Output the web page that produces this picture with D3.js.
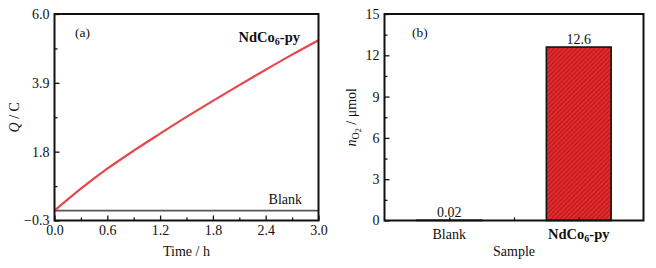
<!DOCTYPE html>
<html>
<head>
<meta charset="utf-8">
<script src="https://cdn.jsdelivr.net/npm/d3@7"></script>
<style>
  body { margin: 0; background: #fff; }
  svg text { font-family: "Liberation Serif", "Times New Roman", Times, serif !important; fill: #111; }
</style>
</head>
<body>
<svg id="chart" width="656" height="268"></svg>
<script>
// Panel (a): charge vs time
const timeH = [0, 0.3, 0.6, 0.9, 1.2, 1.5, 1.8, 2.1, 2.4, 2.7, 3.0];
const chargeNd = [0.0, 0.67, 1.28, 1.83, 2.35, 2.86, 3.35, 3.83, 4.3, 4.76, 5.2];
const chargeBlank = [0.0, 0.0, 0.0, 0.0, 0.0, 0.0, 0.0, 0.0, 0.0, 0.0, 0.0];
const xTicksA = [0, 0.6, 1.2, 1.8, 2.4, 3.0];
const yTicksA = [-0.3, 1.8, 3.9, 6.0];

// Panel (b): O2 amount per sample
const samples = ["Blank", "NdCo6-py"];
const o2Amount = [0.02, 12.6];
const yTicksB = [0, 3, 6, 9, 12, 15];

const svg = d3.select("#chart");
const plotTop = 14, plotBottom = 220.5;
const fs = "14px";

// hatch pattern for the red bar
const defs = svg.append("defs");
const pat = defs.append("pattern")
    .attr("id", "hatch")
    .attr("patternUnits", "userSpaceOnUse")
    .attr("width", 3.2).attr("height", 3.2)
    .attr("patternTransform", "rotate(45)");
pat.append("rect").attr("width", 3.2).attr("height", 3.2).attr("fill", "#e0282b");
pat.append("line").attr("x1", 0).attr("y1", 0).attr("x2", 0).attr("y2", 3.2)
    .attr("stroke", "#8e1416").attr("stroke-width", 1);

function midpoints(ticks) {
    const m = [];
    for (let i = 0; i < ticks.length - 1; i++) m.push((ticks[i] + ticks[i + 1]) / 2);
    return m;
}

function drawAxes(g, x, y, xTicks, yTicks, xMinor, yMinor, yFmt) {
    const w = x.range()[1] - x.range()[0];
    // minor ticks
    g.append("g").attr("transform", `translate(0,${plotBottom})`)
        .call(d3.axisBottom(x).tickValues(xMinor).tickSize(-3).tickFormat(""))
        .call(a => a.select(".domain").remove());
    g.append("g").attr("transform", `translate(${x.range()[0]},0)`)
        .call(d3.axisLeft(y).tickValues(yMinor).tickSize(-3).tickFormat(""))
        .call(a => a.select(".domain").remove());
    // major ticks
    if (xTicks) {
        g.append("g").attr("class", "x-axis").attr("transform", `translate(0,${plotBottom})`)
            .call(d3.axisBottom(x).tickValues(xTicks).tickSizeInner(-5).tickSizeOuter(0)
                .tickPadding(5).tickFormat(d3.format(".1f")))
            .call(a => a.select(".domain").remove());
    }
    g.append("g").attr("class", "y-axis").attr("transform", `translate(${x.range()[0]},0)`)
        .call(d3.axisLeft(y).tickValues(yTicks).tickSizeInner(-5).tickSizeOuter(0)
            .tickPadding(5).tickFormat(yFmt))
        .call(a => a.select(".domain").remove());
    g.selectAll("g").attr("font-family", null).attr("font-size", null);
    g.selectAll(".tick line").attr("stroke", "#111").attr("stroke-width", 1.3);
    g.selectAll(".tick text").style("font-size", fs).attr("fill", "#111");
    // frame
    g.append("rect")
        .attr("x", x.range()[0]).attr("y", plotTop)
        .attr("width", w).attr("height", plotBottom - plotTop)
        .attr("fill", "none").attr("stroke", "#111").attr("stroke-width", 2);
}

// ---------- Panel (a) ----------
const gA = svg.append("g");
const xA = d3.scaleLinear().domain([0, 3]).range([54.5, 318.5]);
const yA = d3.scaleLinear().domain([-0.3, 6.0]).range([plotBottom, plotTop]);

const line = d3.line().x((d, i) => xA(timeH[i])).y(d => yA(d)).curve(d3.curveMonotoneX);

gA.append("path").datum(chargeBlank)
    .attr("d", line).attr("fill", "none")
    .attr("stroke", "#555").attr("stroke-width", 1.8);
gA.append("path").datum(chargeNd)
    .attr("d", line).attr("fill", "none")
    .attr("stroke", "#e6474b").attr("stroke-width", 2.2);

drawAxes(gA, xA, yA, xTicksA, yTicksA, midpoints(xTicksA), midpoints(yTicksA), d3.format(".1f"));

gA.append("text").attr("x", 75).attr("y", 37).style("font-size", "13.5px").text("(a)");
const ndA = gA.append("text").attr("x", 300).attr("y", 42).attr("text-anchor", "end")
    .style("font-size", "14.5px").style("font-weight", "bold");
ndA.append("tspan").text("NdCo");
ndA.append("tspan").attr("dy", 3).style("font-size", "10px").text("6");
ndA.append("tspan").attr("dy", -3).text("-py");
gA.append("text").attr("x", 302).attr("y", 204).attr("text-anchor", "end")
    .style("font-size", fs).text("Blank");

gA.append("text").attr("x", (xA.range()[0] + xA.range()[1]) / 2).attr("y", 256)
    .attr("text-anchor", "middle").style("font-size", fs).text("Time / h");
const qLab = gA.append("text")
    .attr("transform", `translate(19,${(plotTop + plotBottom) / 2}) rotate(-90)`)
    .attr("text-anchor", "middle").style("font-size", fs);
qLab.append("tspan").style("font-style", "italic").text("Q");
qLab.append("tspan").text(" / C");

// ---------- Panel (b) ----------
const gB = svg.append("g");
const xB = d3.scaleLinear().domain([0.5, 2.5]).range([384.5, 643.5]);
const yB = d3.scaleLinear().domain([0, 15]).range([plotBottom, plotTop]);
const barW = xB(1.25) - xB(0.75);

gB.selectAll("rect.bar").data(o2Amount).join("rect")
    .attr("class", "bar")
    .attr("x", (d, i) => xB(i + 1) - barW / 2)
    .attr("y", d => yB(d))
    .attr("width", barW)
    .attr("height", d => yB(0) - yB(d))
    .attr("fill", (d, i) => i === 1 ? "url(#hatch)" : "#fff")
    .attr("stroke", "#111").attr("stroke-width", 1.6);

drawAxes(gB, xB, yB, null, yTicksB, [1, 1.5, 2], midpoints(yTicksB), d3.format("d"));

gB.selectAll("text.val").data(o2Amount).join("text")
    .attr("class", "val")
    .attr("x", (d, i) => xB(i + 1))
    .attr("y", d => yB(d) - 3)
    .attr("text-anchor", "middle").style("font-size", fs)
    .text(d => d);

// category labels
gB.append("text").attr("x", xB(1)).attr("y", 239).attr("text-anchor", "middle")
    .style("font-size", fs).text(samples[0]);
const ndB = gB.append("text").attr("x", xB(2)).attr("y", 239).attr("text-anchor", "middle")
    .style("font-size", "14.5px").style("font-weight", "bold");
ndB.append("tspan").text("NdCo");
ndB.append("tspan").attr("dy", 3).style("font-size", "10px").text("6");
ndB.append("tspan").attr("dy", -3).text("-py");

gB.append("text").attr("x", 412).attr("y", 37).style("font-size", "13.5px").text("(b)");
gB.append("text").attr("x", (xB.range()[0] + xB.range()[1]) / 2).attr("y", 256)
    .attr("text-anchor", "middle").style("font-size", fs).text("Sample");

const nLab = gB.append("text")
    .attr("transform", `translate(356,${(plotTop + plotBottom) / 2}) rotate(-90)`)
    .attr("text-anchor", "middle").style("font-size", fs);
nLab.append("tspan").style("font-style", "italic").text("n");
nLab.append("tspan").attr("dy", 3).style("font-size", "10px").text("O");
nLab.append("tspan").attr("dy", 2).style("font-size", "8px").text("2");
nLab.append("tspan").attr("dy", -5).text(" / μmol");
</script>
</body>
</html>
